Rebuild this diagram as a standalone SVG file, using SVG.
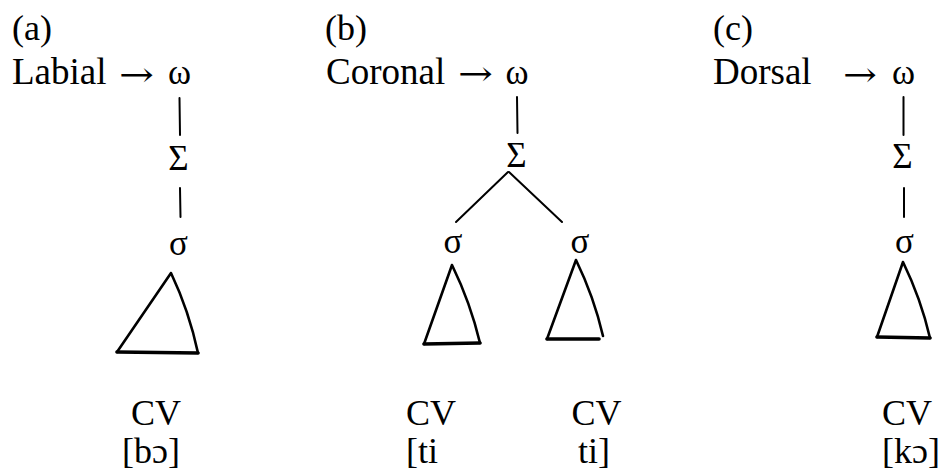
<svg xmlns="http://www.w3.org/2000/svg" width="945" height="472" viewBox="0 0 945 472">
<style>
text{font-family:"Liberation Serif","DejaVu Serif",serif;font-size:36px;fill:#000}
.w{font-size:37px}
.m{text-anchor:middle}
.g{font-size:35px}
.arr{font-family:"DejaVu Serif","Liberation Serif",serif;font-size:34px}
line,path{stroke:#000;fill:none;stroke-linecap:round;stroke-linejoin:round}
line{stroke-width:2}
.tri{stroke-width:2.6}
.base{stroke-width:3.6}
</style>
<rect width="945" height="472" fill="#fff"/>

<g id="labels">
<text x="12" y="40">(a)</text>
<text class="w" x="12" y="84">Labial</text>
<text class="arr" x="119" y="86" textLength="35" lengthAdjust="spacingAndGlyphs">→</text>
<text x="325" y="40">(b)</text>
<text class="w" x="326" y="84">Coronal</text>
<text class="arr" x="458" y="85" textLength="35" lengthAdjust="spacingAndGlyphs">→</text>
<text x="713" y="40">(c)</text>
<text class="w" x="713" y="84">Dorsal</text>
<text class="arr" x="843" y="86" textLength="34" lengthAdjust="spacingAndGlyphs">→</text>
</g>

<g id="connectors">
<line x1="179.5" y1="98" x2="180" y2="135"/>
<line x1="180" y1="188" x2="180.5" y2="217"/>
<line x1="517" y1="97" x2="517.5" y2="133"/>
<line x1="508" y1="172" x2="456" y2="222"/>
<line x1="509" y1="172" x2="562" y2="222"/>
<line x1="903.5" y1="97" x2="903.5" y2="135"/>
<line x1="904" y1="188" x2="904" y2="217"/>
</g>

<g id="tree-a">
<g id="a-omega"><text class="m g" x="179.5" y="84">ω</text></g>
<g id="a-foot"><text class="m g" x="178.5" y="170">Σ</text></g>
<g id="a-syll"><text class="m g" x="178.5" y="255">σ</text></g>
<g id="a-triangle">
<path class="tri" d="M171 273 L117 352 M171 273 Q189 311 198 353"/>
<line class="base" x1="117" y1="352" x2="198" y2="353"/>
</g>
<g id="a-cv"><text class="m" x="156" y="425">CV</text></g>
<g id="a-form"><text class="m" x="151" y="463">[bɔ]</text></g>
</g>

<g id="tree-b">
<g id="b-omega"><text class="m g" x="517" y="84">ω</text></g>
<g id="b-foot"><text class="m g" x="516.5" y="167">Σ</text></g>
<g id="b-syll1"><text class="m g" x="453" y="253">σ</text></g>
<g id="b-syll2"><text class="m g" x="580" y="253">σ</text></g>
<g id="b-triangle1">
<path class="tri" d="M452 265 L424 344 M452 265 Q470.5 303 480 343"/>
<line class="base" x1="424" y1="344" x2="480" y2="343"/>
</g>
<g id="b-triangle2">
<path class="tri" d="M576 260 L547 339 M576 260 Q594 297 603 336"/>
<line class="base" x1="547" y1="339" x2="599" y2="339"/>
</g>
<g id="b-cv1"><text class="m" x="431" y="425">CV</text></g>
<g id="b-cv2"><text class="m" x="596.5" y="425">CV</text></g>
<g id="b-form1"><text x="406" y="463">[ti</text></g>
<g id="b-form2"><text x="578" y="463">ti]</text></g>
</g>

<g id="tree-c">
<g id="c-omega"><text class="m g" x="903.5" y="84">ω</text></g>
<g id="c-foot"><text class="m g" x="902.5" y="168">Σ</text></g>
<g id="c-syll"><text class="m g" x="904.5" y="253">σ</text></g>
<g id="c-triangle">
<path class="tri" d="M903 262 L877 337 M903 262 Q921 299 930 338"/>
<line class="base" x1="877" y1="337" x2="930" y2="338"/>
</g>
<g id="c-cv"><text x="882" y="425">CV</text></g>
<g id="c-form"><text x="882" y="463">[kɔ]</text></g>
</g>
</svg>
